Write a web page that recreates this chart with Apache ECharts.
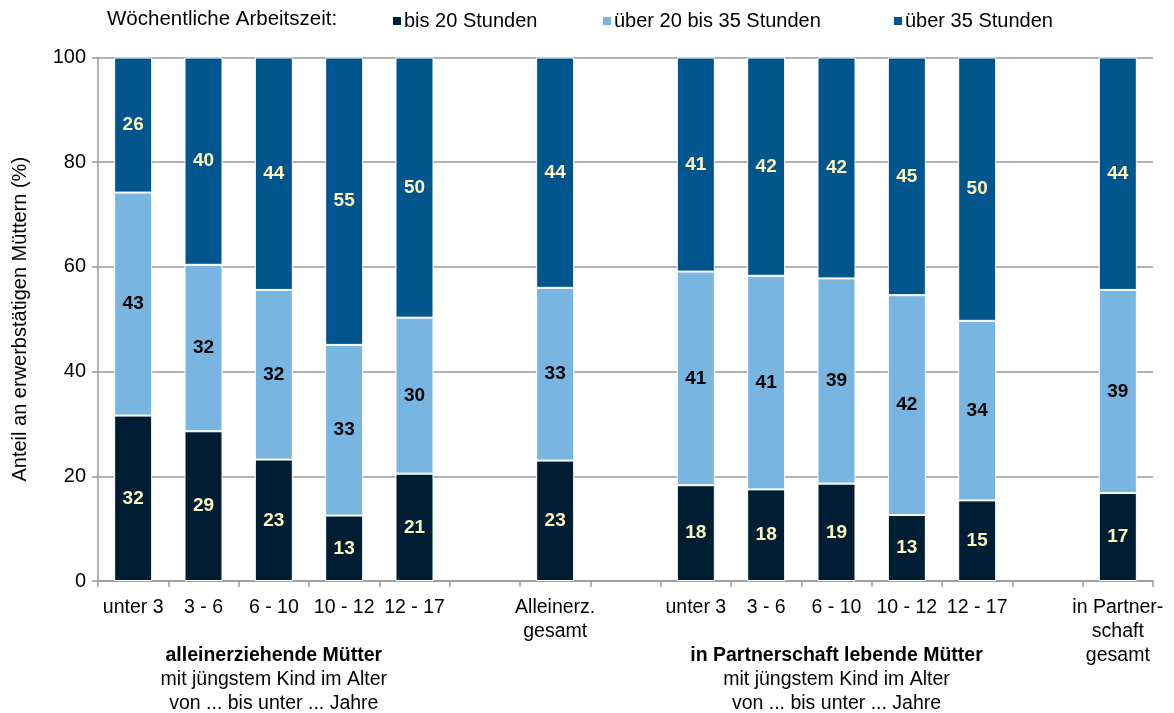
<!DOCTYPE html>
<html>
<head>
<meta charset="utf-8">
<script src="https://cdn.jsdelivr.net/npm/echarts@6/dist/echarts.min.js"></script>
<style>
  html, body { margin: 0; padding: 0; background: #fff; }
  #chart { width: 1174px; height: 713px; }
</style>
</head>
<body>
<div id="chart"></div>
<script>
// Kategorien: fünf Altersgruppen je Familienform, dazwischen leere Abstandsplätze
const categories = [
  'unter 3', '3 - 6', '6 - 10', '10 - 12', '12 - 17', '',
  'Alleinerz.\ngesamt', '',
  'unter 3', '3 - 6', '6 - 10', '10 - 12', '12 - 17', '',
  'in Partner-\nschaft\ngesamt'
];

// Anteile in Prozent (null = leerer Platz)
const bis20 =        [31.6, 28.6, 23.2, 12.5, 20.5, null, 23.0, null, 18.3, 17.5, 18.6, 12.6, 15.4, null, 16.8];
const ueber20bis35 = [42.6, 31.8, 32.4, 32.6, 29.8, null, 33.0, null, 40.8, 40.8, 39.2, 42.0, 34.3, null, 38.8];
const ueber35 =      [25.8, 39.6, 44.4, 54.9, 49.7, null, 44.0, null, 40.9, 41.7, 42.2, 45.4, 50.3, null, 44.4];

const seriesNames = ['bis 20 Stunden', 'über 20 bis 35 Stunden', 'über 35 Stunden'];
const yTicks = [0, 20, 40, 60, 80, 100];

const groupTitles = ['alleinerziehende Mütter', 'in Partnerschaft lebende Mütter'];
const groupSubtitle = ['mit jüngstem Kind im Alter', 'von ... bis unter ... Jahre'];
const groupRanges = [[0, 4], [8, 12]];

const FONT = '"Liberation Sans", Arial, sans-serif';
const colors = ['#001E33', '#78B5E1', '#00558C'];
const labelColors = ['#FFF6BE', '#000000', '#FFF6BE'];

const chart = echarts.init(document.getElementById('chart'), null, { renderer: 'canvas' });

function makeSeries(name, data, idx) {
  return {
    name: name,
    type: 'bar',
    stack: 'total',
    barWidth: 38,
    data: data,
    itemStyle: { color: colors[idx], borderColor: '#ffffff', borderWidth: 1 },
    label: {
      show: true,
      position: 'inside',
      fontFamily: FONT,
      fontWeight: 'bold',
      fontSize: 19,
      color: labelColors[idx],
      formatter: p => (p.value == null ? '' : Math.round(p.value))
    },
    emphasis: { disabled: true },
    animation: false
  };
}

const legendLefts = [386, 596, 887];

chart.setOption({
  animation: false,
  textStyle: { fontFamily: FONT },
  color: colors,
  grid: { left: 98, right: 21, top: 57.5, bottom: 132 },
  legend: seriesNames.map((n, i) => ({
    data: [n],
    left: legendLefts[i],
    top: 6,
    icon: 'rect',
    itemWidth: 10,
    itemHeight: 10,
    itemGap: 0,
    textStyle: { fontFamily: FONT, fontSize: 20, color: '#000', padding: [0, 0, 0, -3] },
    selectedMode: false
  })),
  xAxis: {
    type: 'category',
    data: categories,
    boundaryGap: true,
    axisLine: { lineStyle: { color: '#999', width: 1.5 } },
    axisTick: { show: true, interval: 0, length: 6, lineStyle: { color: '#999', width: 1.5 } },
    axisLabel: {
      interval: 0,
      color: '#000',
      fontFamily: FONT,
      fontSize: 19.5,
      lineHeight: 24,
      margin: 15
    }
  },
  yAxis: {
    type: 'value',
    min: yTicks[0],
    max: yTicks[yTicks.length - 1],
    interval: 20,
    name: 'Anteil an erwerbstätigen Müttern (%)',
    nameLocation: 'middle',
    nameGap: 68,
    nameRotate: 90,
    nameTextStyle: { fontFamily: FONT, fontSize: 20, color: '#000' },
    axisLine: { show: true, lineStyle: { color: '#999', width: 1.5 } },
    axisTick: { show: true, length: 6, lineStyle: { color: '#999', width: 1.5 } },
    axisLabel: { color: '#000', fontFamily: FONT, fontSize: 20, margin: 12 },
    splitLine: { show: true, lineStyle: { color: '#999', width: 1.5 } }
  },
  series: [
    makeSeries(seriesNames[0], bis20, 0),
    makeSeries(seriesNames[1], ueber20bis35, 1),
    makeSeries(seriesNames[2], ueber35, 2)
  ]
});

// Überschrift der Legende und Gruppenbeschriftungen unter der Achse
const graphics = [{
  type: 'text',
  x: 107,
  y: 19,
  style: { text: 'Wöchentliche Arbeitszeit:', fontFamily: FONT, fontSize: 20.5, fill: '#000',
           verticalAlign: 'middle' }
}];
groupRanges.forEach((r, g) => {
  const x0 = chart.convertToPixel({ xAxisIndex: 0 }, r[0]);
  const x1 = chart.convertToPixel({ xAxisIndex: 0 }, r[1]);
  const cx = (x0 + x1) / 2;
  graphics.push({
    type: 'text', x: cx, y: 656,
    style: { text: groupTitles[g], fontFamily: FONT, fontSize: 19.5, fontWeight: 'bold',
             fill: '#000', align: 'center', verticalAlign: 'middle' }
  });
  groupSubtitle.forEach((s, k) => {
    graphics.push({
      type: 'text', x: cx, y: 680 + k * 23.5,
      style: { text: s, fontFamily: FONT, fontSize: 19.5, fill: '#000',
               align: 'center', verticalAlign: 'middle' }
    });
  });
});
chart.setOption({ graphic: graphics });
</script>
</body>
</html>
